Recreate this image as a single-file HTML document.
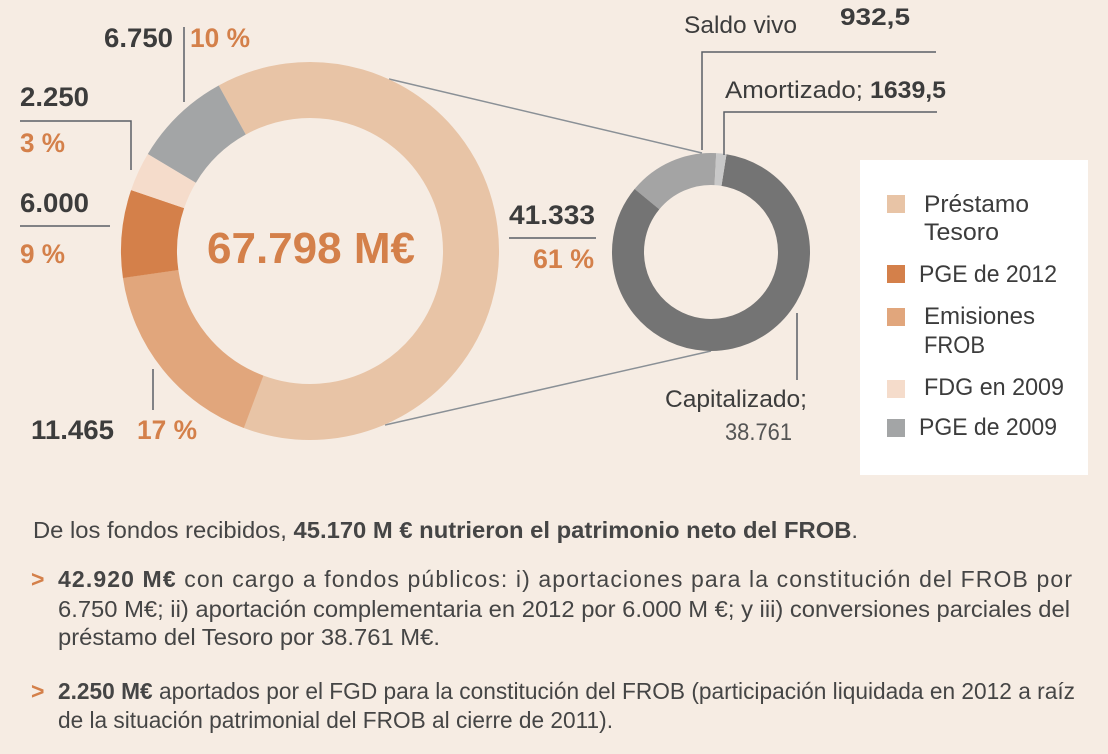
<!DOCTYPE html>
<html><head><meta charset="utf-8"><style>
html,body{margin:0;padding:0;background:#f6ece3;}
svg{display:block;font-family:"Liberation Sans",sans-serif;}
</style></head><body>
<svg width="1108" height="754" viewBox="0 0 1108 754" xmlns="http://www.w3.org/2000/svg">
<rect width="1108" height="754" fill="#f6ece3"/>
<line x1="389" y1="79" x2="702" y2="153" stroke="#8a9096" stroke-width="1.5"/>
<line x1="385" y1="425" x2="711" y2="351" stroke="#8a9096" stroke-width="1.5"/>
<g fill="none" stroke-width="56">
<circle cx="310" cy="251" r="161" stroke="#e8c4a6" stroke-dasharray="644.6 1011.6" transform="rotate(241.1 310 251)"/>
<circle cx="310" cy="251" r="161" stroke="#e1a67c" stroke-dasharray="172.3 1011.6" transform="rotate(110.5 310 251)"/>
<circle cx="310" cy="251" r="161" stroke="#d4804a" stroke-dasharray="75.9 1011.6" transform="rotate(171.8 310 251)"/>
<circle cx="310" cy="251" r="161" stroke="#f5dccb" stroke-dasharray="34 1011.6" transform="rotate(198.8 310 251)"/>
<circle cx="310" cy="251" r="161" stroke="#a3a5a6" stroke-dasharray="84.9 1011.6" transform="rotate(210.9 310 251)"/>
</g>
<text x="311" y="263" text-anchor="middle" font-size="44" font-weight="bold" fill="#d4804a" textLength="208" lengthAdjust="spacingAndGlyphs">67.798 M€</text>
<g fill="none" stroke-width="32">
<circle cx="711" cy="252" r="83" stroke="#747474" stroke-dasharray="435.3 521.5" transform="rotate(-81 711 252)"/>
<circle cx="711" cy="252" r="83" stroke="#a4a4a4" stroke-dasharray="77.5 521.5" transform="rotate(219.5 711 252)"/>
<circle cx="711" cy="252" r="83" stroke="#c8c8c8" stroke-dasharray="8.7 521.5" transform="rotate(-87 711 252)"/>
</g>
<g stroke="#5a5f66" stroke-width="1.5" fill="none">
<polyline points="184,27 184,102"/>
<polyline points="20,121 131,121 131,170"/>
<polyline points="20,226 110,226"/>
<polyline points="153,369 153,410"/>
<polyline points="509,238 596,238"/>
<polyline points="702,150 702,52 936,52"/>
<polyline points="724,155 724,112 937,112"/>
<polyline points="797,313 797,380"/>
</g>
<g font-size="27" font-weight="bold">
<text x="104" y="47" fill="#3c3c3c" textLength="69" lengthAdjust="spacingAndGlyphs">6.750</text>
<text x="190" y="47" fill="#d4804a" textLength="60" lengthAdjust="spacingAndGlyphs">10 %</text>
<text x="20" y="106" fill="#3c3c3c" textLength="69" lengthAdjust="spacingAndGlyphs">2.250</text>
<text x="20" y="152" fill="#d4804a" textLength="45" lengthAdjust="spacingAndGlyphs">3 %</text>
<text x="20" y="212" fill="#3c3c3c" textLength="69" lengthAdjust="spacingAndGlyphs">6.000</text>
<text x="20" y="263" fill="#d4804a" textLength="45" lengthAdjust="spacingAndGlyphs">9 %</text>
<text x="31" y="439" fill="#3c3c3c" textLength="83" lengthAdjust="spacingAndGlyphs">11.465</text>
<text x="137" y="439" fill="#d4804a" textLength="60" lengthAdjust="spacingAndGlyphs">17 %</text>
<text x="509" y="224" fill="#3c3c3c" textLength="86" lengthAdjust="spacingAndGlyphs">41.333</text>
<text x="533" y="268" fill="#d4804a" textLength="61" lengthAdjust="spacingAndGlyphs">61 %</text>
</g>
<g font-size="24" fill="#3c3c3c">
<text x="684" y="33" textLength="113" lengthAdjust="spacingAndGlyphs">Saldo vivo</text>
<text x="840" y="25" font-weight="bold" textLength="70" lengthAdjust="spacingAndGlyphs">932,5</text>
<text x="725" y="98" textLength="138" lengthAdjust="spacingAndGlyphs">Amortizado;</text>
<text x="870" y="98" font-weight="bold" textLength="76" lengthAdjust="spacingAndGlyphs">1639,5</text>
<text x="665" y="407" textLength="142" lengthAdjust="spacingAndGlyphs">Capitalizado;</text>
<text x="725" y="440" fill="#555" textLength="67" lengthAdjust="spacingAndGlyphs">38.761</text>
</g>
<rect x="860" y="160" width="228" height="315" fill="#ffffff"/>
<rect x="887" y="195" width="18" height="18" fill="#e8c4a6"/>
<rect x="887" y="265" width="18" height="18" fill="#d4804a"/>
<rect x="887" y="308" width="18" height="18" fill="#e1a67c"/>
<rect x="887" y="380" width="18" height="18" fill="#f5dccb"/>
<rect x="887" y="419" width="18" height="18" fill="#a3a5a6"/>
<g font-size="24" fill="#3c3c3c">
<text x="924" y="212" textLength="105" lengthAdjust="spacingAndGlyphs">Préstamo</text>
<text x="924" y="240" textLength="75" lengthAdjust="spacingAndGlyphs">Tesoro</text>
<text x="919" y="282" textLength="138" lengthAdjust="spacingAndGlyphs">PGE de 2012</text>
<text x="924" y="324" textLength="111" lengthAdjust="spacingAndGlyphs">Emisiones</text>
<text x="924" y="353" textLength="61" lengthAdjust="spacingAndGlyphs">FROB</text>
<text x="924" y="395" textLength="140" lengthAdjust="spacingAndGlyphs">FDG en 2009</text>
<text x="919" y="435" textLength="138" lengthAdjust="spacingAndGlyphs">PGE de 2009</text>
</g>
<g font-size="23" fill="#454545">
<text x="33" y="538" textLength="825" lengthAdjust="spacingAndGlyphs">De los fondos recibidos, <tspan font-weight="bold">45.170 M € nutrieron el patrimonio neto del FROB</tspan>.</text>
<text x="31" y="587" fill="#d4804a" font-weight="bold">&gt;</text>
<text x="58" y="587" textLength="1014" lengthAdjust="spacing"><tspan font-weight="bold">42.920 M€</tspan> con cargo a fondos públicos: i) aportaciones para la constitución del FROB por</text>
<text x="58" y="617" textLength="1012" lengthAdjust="spacingAndGlyphs">6.750 M€; ii) aportación complementaria en 2012 por 6.000 M €; y iii) conversiones parciales del</text>
<text x="58" y="645" textLength="382" lengthAdjust="spacingAndGlyphs">préstamo del Tesoro por 38.761 M€.</text>
<text x="31" y="699" fill="#d4804a" font-weight="bold">&gt;</text>
<text x="58" y="699" textLength="1017" lengthAdjust="spacingAndGlyphs"><tspan font-weight="bold">2.250 M€</tspan> aportados por el FGD para la constitución del FROB (participación liquidada en 2012 a raíz</text>
<text x="58" y="728" textLength="555" lengthAdjust="spacingAndGlyphs">de la situación patrimonial del FROB al cierre de 2011).</text>
</g>
</svg>
</body></html>
